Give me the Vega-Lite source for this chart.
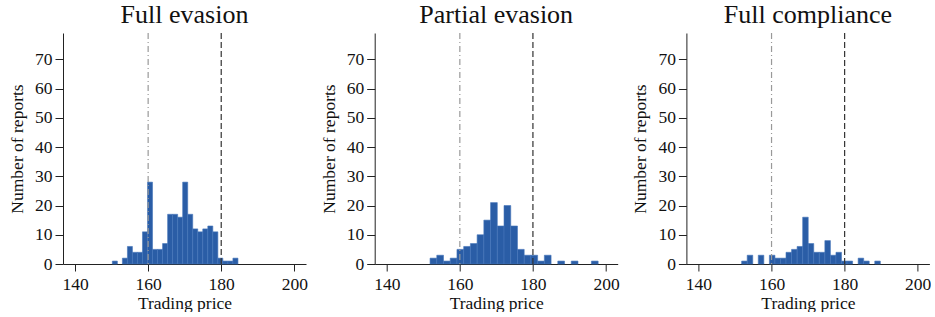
{
  "$schema": "https://vega.github.io/schema/vega-lite/v6.json",
  "padding": {"left": 8, "top": 2, "right": 0, "bottom": 0},
  "bounds": "flush",
  "spacing": 68.7,
  "config": {
    "font": "Liberation Serif",
    "view": {"stroke": null},
    "style": {"guide-label": {"font": "Liberation Serif", "fontSize": 17.5, "fill": "#111"}, "guide-title": {"font": "Liberation Serif", "fontSize": 17.5, "fontWeight": "normal", "fill": "#111"}}
  },
  "datasets": {
    "hist": [
      {"panel": "Full evasion", "x0": 150.2, "x1": 151.58, "count": 1},
      {"panel": "Full evasion", "x0": 152.95, "x1": 154.33, "count": 2},
      {"panel": "Full evasion", "x0": 154.33, "x1": 155.7, "count": 6},
      {"panel": "Full evasion", "x0": 155.7, "x1": 157.08, "count": 4},
      {"panel": "Full evasion", "x0": 157.08, "x1": 158.45, "count": 4},
      {"panel": "Full evasion", "x0": 158.45, "x1": 159.83, "count": 11},
      {"panel": "Full evasion", "x0": 159.83, "x1": 161.2, "count": 28},
      {"panel": "Full evasion", "x0": 161.2, "x1": 162.58, "count": 5},
      {"panel": "Full evasion", "x0": 162.58, "x1": 163.95, "count": 5},
      {"panel": "Full evasion", "x0": 163.95, "x1": 165.33, "count": 7},
      {"panel": "Full evasion", "x0": 165.33, "x1": 166.7, "count": 17},
      {"panel": "Full evasion", "x0": 166.7, "x1": 168.08, "count": 17},
      {"panel": "Full evasion", "x0": 168.08, "x1": 169.45, "count": 16},
      {"panel": "Full evasion", "x0": 169.45, "x1": 170.83, "count": 28},
      {"panel": "Full evasion", "x0": 170.83, "x1": 172.2, "count": 17},
      {"panel": "Full evasion", "x0": 172.2, "x1": 173.58, "count": 12},
      {"panel": "Full evasion", "x0": 173.58, "x1": 174.95, "count": 11},
      {"panel": "Full evasion", "x0": 174.95, "x1": 176.33, "count": 12},
      {"panel": "Full evasion", "x0": 176.33, "x1": 177.7, "count": 13},
      {"panel": "Full evasion", "x0": 177.7, "x1": 179.08, "count": 11},
      {"panel": "Full evasion", "x0": 179.08, "x1": 180.45, "count": 2},
      {"panel": "Full evasion", "x0": 180.45, "x1": 181.83, "count": 1},
      {"panel": "Full evasion", "x0": 181.83, "x1": 183.2, "count": 1},
      {"panel": "Full evasion", "x0": 183.2, "x1": 184.58, "count": 2},

      {"panel": "Partial evasion", "x0": 151.85, "x1": 153.69, "count": 2},
      {"panel": "Partial evasion", "x0": 153.69, "x1": 155.53, "count": 3},
      {"panel": "Partial evasion", "x0": 155.53, "x1": 157.37, "count": 1},
      {"panel": "Partial evasion", "x0": 157.37, "x1": 159.21, "count": 2},
      {"panel": "Partial evasion", "x0": 159.21, "x1": 161.05, "count": 5},
      {"panel": "Partial evasion", "x0": 161.05, "x1": 162.89, "count": 6},
      {"panel": "Partial evasion", "x0": 162.89, "x1": 164.73, "count": 7},
      {"panel": "Partial evasion", "x0": 164.73, "x1": 166.57, "count": 10},
      {"panel": "Partial evasion", "x0": 166.57, "x1": 168.41, "count": 15},
      {"panel": "Partial evasion", "x0": 168.41, "x1": 170.25, "count": 21},
      {"panel": "Partial evasion", "x0": 170.25, "x1": 172.09, "count": 13},
      {"panel": "Partial evasion", "x0": 172.09, "x1": 173.93, "count": 20},
      {"panel": "Partial evasion", "x0": 173.93, "x1": 175.77, "count": 13},
      {"panel": "Partial evasion", "x0": 175.77, "x1": 177.61, "count": 5},
      {"panel": "Partial evasion", "x0": 177.61, "x1": 179.45, "count": 3},
      {"panel": "Partial evasion", "x0": 179.45, "x1": 181.29, "count": 3},
      {"panel": "Partial evasion", "x0": 181.29, "x1": 183.13, "count": 1},
      {"panel": "Partial evasion", "x0": 183.13, "x1": 184.97, "count": 3},
      {"panel": "Partial evasion", "x0": 186.81, "x1": 188.65, "count": 1},
      {"panel": "Partial evasion", "x0": 190.49, "x1": 192.33, "count": 1},
      {"panel": "Partial evasion", "x0": 196.01, "x1": 197.85, "count": 1},

      {"panel": "Full compliance", "x0": 151.82, "x1": 153.34, "count": 1},
      {"panel": "Full compliance", "x0": 153.34, "x1": 154.86, "count": 3},
      {"panel": "Full compliance", "x0": 156.37, "x1": 157.89, "count": 3},
      {"panel": "Full compliance", "x0": 159.41, "x1": 160.93, "count": 3},
      {"panel": "Full compliance", "x0": 160.93, "x1": 162.45, "count": 2},
      {"panel": "Full compliance", "x0": 162.45, "x1": 163.96, "count": 2},
      {"panel": "Full compliance", "x0": 163.96, "x1": 165.48, "count": 4},
      {"panel": "Full compliance", "x0": 165.48, "x1": 167.0, "count": 5},
      {"panel": "Full compliance", "x0": 167.0, "x1": 168.52, "count": 6},
      {"panel": "Full compliance", "x0": 168.52, "x1": 170.04, "count": 16},
      {"panel": "Full compliance", "x0": 170.04, "x1": 171.55, "count": 7},
      {"panel": "Full compliance", "x0": 171.55, "x1": 173.07, "count": 4},
      {"panel": "Full compliance", "x0": 173.07, "x1": 174.59, "count": 4},
      {"panel": "Full compliance", "x0": 174.59, "x1": 176.11, "count": 8},
      {"panel": "Full compliance", "x0": 176.11, "x1": 177.63, "count": 3},
      {"panel": "Full compliance", "x0": 177.63, "x1": 179.14, "count": 4},
      {"panel": "Full compliance", "x0": 179.14, "x1": 180.66, "count": 1},
      {"panel": "Full compliance", "x0": 180.66, "x1": 182.18, "count": 1},
      {"panel": "Full compliance", "x0": 183.7, "x1": 185.22, "count": 2},
      {"panel": "Full compliance", "x0": 185.22, "x1": 186.73, "count": 1},
      {"panel": "Full compliance", "x0": 188.25, "x1": 189.77, "count": 1}
    ],
    "refs": [
      {"price": 160, "kind": "lower"},
      {"price": 180, "kind": "upper"}
    ]
  },
  "hconcat": [
    {
      "width": 243, "height": 231,
      "title": {"text": "Full evasion", "font": "Liberation Serif", "fontSize": 26, "fontWeight": "normal", "color": "#111", "offset": 4},
      "layer": [
        {
          "data": {"name": "hist"},
          "transform": [{"filter": "datum.panel === 'Full evasion'"}],
          "mark": {"type": "rect", "color": "#2a5da6", "stroke": "#4576bb", "strokeWidth": 0.6},
          "encoding": {
            "x": {"field": "x0", "type": "quantitative", "scale": {"domain": [136.7, 203.2], "nice": false, "zero": false},
                  "axis": {"values": [140, 160, 180, 200], "title": "Trading price", "grid": false, "labelFont": "Liberation Serif", "labelFontSize": 17.5, "labelColor": "#111", "titleFont": "Liberation Serif", "titleFontSize": 17.5, "titleFontWeight": "normal", "titleColor": "#111", "domainColor": "#222", "tickColor": "#222", "tickSize": 7, "labelPadding": 4, "titlePadding": 2}},
            "x2": {"field": "x1"},
            "y": {"field": "count", "type": "quantitative", "scale": {"domain": [0, 79], "nice": false},
                  "axis": {"values": [0, 10, 20, 30, 40, 50, 60, 70], "title": "Number of reports", "grid": false, "labelFont": "Liberation Serif", "labelFontSize": 17.5, "labelColor": "#111", "titleFont": "Liberation Serif", "titleFontSize": 17.5, "titleFontWeight": "normal", "titleColor": "#111", "domainColor": "#222", "tickColor": "#222", "tickSize": 8, "labelPadding": 3, "titlePadding": 8}},
            "y2": {"datum": 0}
          }
        },
        {
          "data": {"name": "refs"},
          "transform": [{"filter": "datum.kind === 'lower'"}],
          "mark": {"type": "rule", "color": "#999", "strokeWidth": 1.2, "strokeDash": [6, 3, 1, 3]},
          "encoding": {"x": {"field": "price", "type": "quantitative"}}
        },
        {
          "data": {"name": "refs"},
          "transform": [{"filter": "datum.kind === 'upper'"}],
          "mark": {"type": "rule", "color": "#333", "strokeWidth": 1.2, "strokeDash": [6, 3]},
          "encoding": {"x": {"field": "price", "type": "quantitative"}}
        }
      ]
    },
    {
      "width": 243, "height": 231,
      "title": {"text": "Partial evasion", "font": "Liberation Serif", "fontSize": 26, "fontWeight": "normal", "color": "#111", "offset": 4},
      "layer": [
        {
          "data": {"name": "hist"},
          "transform": [{"filter": "datum.panel === 'Partial evasion'"}],
          "mark": {"type": "rect", "color": "#2a5da6", "stroke": "#4576bb", "strokeWidth": 0.6},
          "encoding": {
            "x": {"field": "x0", "type": "quantitative", "scale": {"domain": [136.7, 203.2], "nice": false, "zero": false},
                  "axis": {"values": [140, 160, 180, 200], "title": "Trading price", "grid": false, "labelFont": "Liberation Serif", "labelFontSize": 17.5, "labelColor": "#111", "titleFont": "Liberation Serif", "titleFontSize": 17.5, "titleFontWeight": "normal", "titleColor": "#111", "domainColor": "#222", "tickColor": "#222", "tickSize": 7, "labelPadding": 4, "titlePadding": 2}},
            "x2": {"field": "x1"},
            "y": {"field": "count", "type": "quantitative", "scale": {"domain": [0, 79], "nice": false},
                  "axis": {"values": [0, 10, 20, 30, 40, 50, 60, 70], "title": "Number of reports", "grid": false, "labelFont": "Liberation Serif", "labelFontSize": 17.5, "labelColor": "#111", "titleFont": "Liberation Serif", "titleFontSize": 17.5, "titleFontWeight": "normal", "titleColor": "#111", "domainColor": "#222", "tickColor": "#222", "tickSize": 8, "labelPadding": 3, "titlePadding": 8}},
            "y2": {"datum": 0}
          }
        },
        {
          "data": {"name": "refs"},
          "transform": [{"filter": "datum.kind === 'lower'"}],
          "mark": {"type": "rule", "color": "#999", "strokeWidth": 1.2, "strokeDash": [6, 3, 1, 3]},
          "encoding": {"x": {"field": "price", "type": "quantitative"}}
        },
        {
          "data": {"name": "refs"},
          "transform": [{"filter": "datum.kind === 'upper'"}],
          "mark": {"type": "rule", "color": "#333", "strokeWidth": 1.2, "strokeDash": [6, 3]},
          "encoding": {"x": {"field": "price", "type": "quantitative"}}
        }
      ]
    },
    {
      "width": 243, "height": 231,
      "title": {"text": "Full compliance", "font": "Liberation Serif", "fontSize": 26, "fontWeight": "normal", "color": "#111", "offset": 4},
      "layer": [
        {
          "data": {"name": "hist"},
          "transform": [{"filter": "datum.panel === 'Full compliance'"}],
          "mark": {"type": "rect", "color": "#2a5da6", "stroke": "#4576bb", "strokeWidth": 0.6},
          "encoding": {
            "x": {"field": "x0", "type": "quantitative", "scale": {"domain": [136.7, 203.2], "nice": false, "zero": false},
                  "axis": {"values": [140, 160, 180, 200], "title": "Trading price", "grid": false, "labelFont": "Liberation Serif", "labelFontSize": 17.5, "labelColor": "#111", "titleFont": "Liberation Serif", "titleFontSize": 17.5, "titleFontWeight": "normal", "titleColor": "#111", "domainColor": "#222", "tickColor": "#222", "tickSize": 7, "labelPadding": 4, "titlePadding": 2}},
            "x2": {"field": "x1"},
            "y": {"field": "count", "type": "quantitative", "scale": {"domain": [0, 79], "nice": false},
                  "axis": {"values": [0, 10, 20, 30, 40, 50, 60, 70], "title": "Number of reports", "grid": false, "labelFont": "Liberation Serif", "labelFontSize": 17.5, "labelColor": "#111", "titleFont": "Liberation Serif", "titleFontSize": 17.5, "titleFontWeight": "normal", "titleColor": "#111", "domainColor": "#222", "tickColor": "#222", "tickSize": 8, "labelPadding": 3, "titlePadding": 8}},
            "y2": {"datum": 0}
          }
        },
        {
          "data": {"name": "refs"},
          "transform": [{"filter": "datum.kind === 'lower'"}],
          "mark": {"type": "rule", "color": "#999", "strokeWidth": 1.2, "strokeDash": [6, 3, 1, 3]},
          "encoding": {"x": {"field": "price", "type": "quantitative"}}
        },
        {
          "data": {"name": "refs"},
          "transform": [{"filter": "datum.kind === 'upper'"}],
          "mark": {"type": "rule", "color": "#333", "strokeWidth": 1.2, "strokeDash": [6, 3]},
          "encoding": {"x": {"field": "price", "type": "quantitative"}}
        }
      ]
    }
  ]
}
